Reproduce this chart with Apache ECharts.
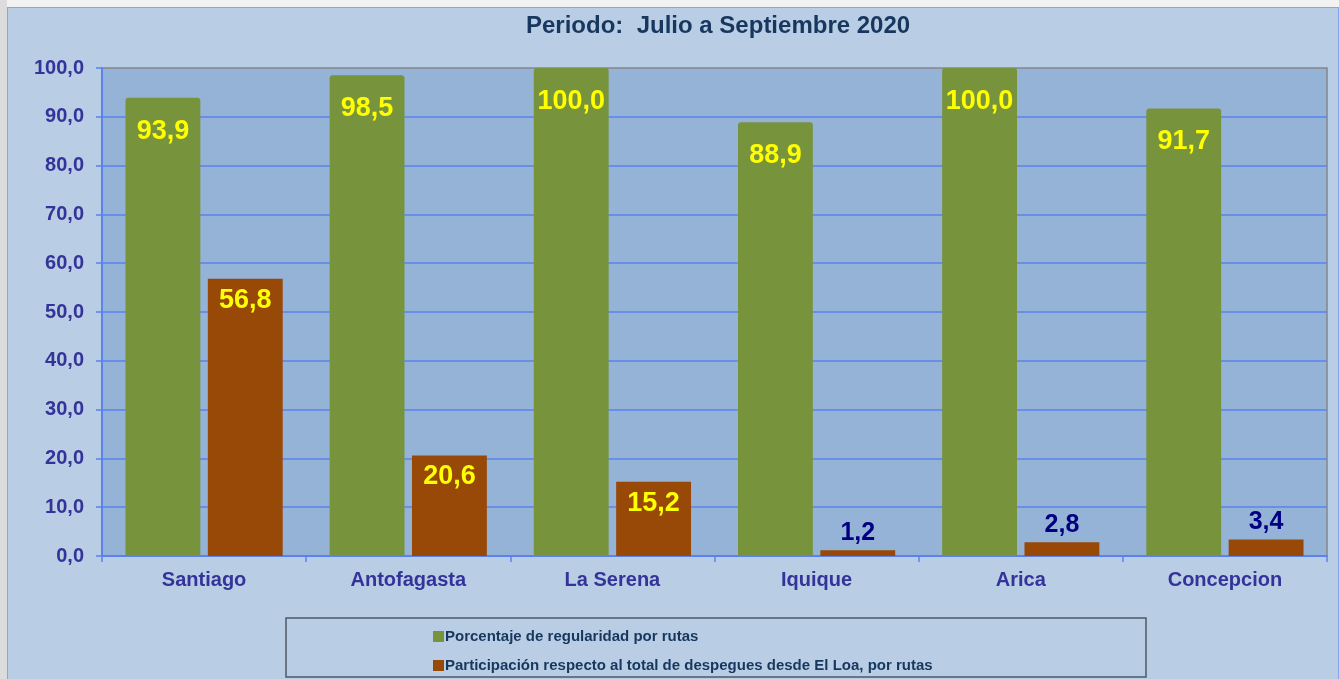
<!DOCTYPE html>
<html>
<head>
<meta charset="utf-8">
<script src="https://cdn.jsdelivr.net/npm/echarts@6/dist/echarts.min.js"></script>
<style>
  html, body { margin: 0; padding: 0; width: 1339px; height: 679px; overflow: hidden; background: #f2f2f2; }
  #leftstrip { position: absolute; left: 0; top: 0; width: 7px; height: 679px; background: #dcdcdc; }
  #frame { position: absolute; left: 7px; top: 7px; width: 1330px; height: 680px; background: #b9cde5; border: 1px solid #86a4f2; }
  #chart { position: absolute; left: 0; top: 0; width: 1339px; height: 679px; }
</style>
</head>
<body>
<div id="leftstrip"></div>
<div id="frame"></div>
<div id="chart"></div>
<script>
const titleText = 'Periodo:  Julio a Septiembre 2020';
const categories = ['Santiago', 'Antofagasta', 'La Serena', 'Iquique', 'Arica', 'Concepcion'];
const seriesNames = [
  'Porcentaje de regularidad por rutas',
  'Participación respecto al total de despegues desde El Loa, por rutas'
];
const regularidad = [93.9, 98.5, 100.0, 88.9, 100.0, 91.7];
const participacion = [56.8, 20.6, 15.2, 1.2, 2.8, 3.4];
const yTicks = [0, 10, 20, 30, 40, 50, 60, 70, 80, 90, 100];

const fmt = v => v.toFixed(1).replace('.', ',');
const FONT = 'Liberation Sans, Arial, sans-serif';

const chart = echarts.init(document.getElementById('chart'), null, { renderer: 'canvas' });

const partData = participacion.map(v => {
  if (v >= 10) {
    return { value: v, label: { position: 'insideTop', distance: 8, color: '#ffff00', fontSize: 27 } };
  }
  return { value: v, label: { position: 'top', distance: 5, color: '#000080', fontSize: 25 } };
});

chart.setOption({
  backgroundColor: 'transparent',
  animation: false,
  title: {
    text: titleText,
    left: 521, top: 9,
    textStyle: { fontFamily: FONT, fontSize: 24, fontWeight: 'bold', color: '#17375e' }
  },
  legend: {
    orient: 'vertical',
    left: 428, top: 624,
    itemWidth: 11, itemHeight: 11, itemGap: 14,
    icon: 'rect',
    data: seriesNames,
    textStyle: { fontFamily: FONT, fontSize: 15, fontWeight: 'bold', color: '#17375e', padding: [0, 0, 0, -4] }
  },
  graphic: [{
    type: 'rect',
    shape: { x: 286, y: 618, width: 860, height: 59 },
    style: { fill: 'none', stroke: '#4f5a66', lineWidth: 1.5 },
    silent: true
  }],
  grid: {
    left: 102, right: 12, top: 68, bottom: 123,
    show: true, backgroundColor: '#95b3d7', borderColor: '#868686', borderWidth: 1.5
  },
  xAxis: {
    type: 'category',
    data: categories,
    axisLine: { lineStyle: { color: '#5b82ee', width: 2 } },
    axisTick: { show: true, length: 6, lineStyle: { color: '#5b82ee', width: 1.5 } },
    axisLabel: { fontFamily: FONT, fontSize: 20, fontWeight: 'bold', color: '#333399', margin: 14 }
  },
  yAxis: {
    type: 'value',
    min: yTicks[0], max: yTicks[yTicks.length - 1], interval: 10,
    axisLine: { show: true, lineStyle: { color: '#5b82ee', width: 2 } },
    axisTick: { show: true, length: 6, lineStyle: { color: '#5b82ee', width: 1.5 } },
    splitLine: { showMaxLine: false, lineStyle: { color: '#5b82ee', width: 1.5 } },
    axisLabel: { fontFamily: FONT, fontSize: 20, fontWeight: 'bold', color: '#333399', margin: 18, formatter: v => fmt(v) }
  },
  series: [
    {
      name: seriesNames[0],
      type: 'bar',
      data: regularidad,
      barGap: '10%',
      barCategoryGap: '23%',
      itemStyle: { color: '#77933c', borderRadius: [3, 3, 0, 0] },
      label: {
        show: true, position: 'insideTop', distance: 20,
        fontFamily: FONT, fontSize: 27, fontWeight: 'bold', color: '#ffff00',
        formatter: p => fmt(p.value)
      }
    },
    {
      name: seriesNames[1],
      type: 'bar',
      data: partData,
      barGap: '10%',
      barCategoryGap: '23%',
      itemStyle: { color: '#984807' },
      label: {
        show: true,
        fontFamily: FONT, fontWeight: 'bold',
        formatter: p => fmt(p.value)
      }
    }
  ]
});
</script>
</body>
</html>
